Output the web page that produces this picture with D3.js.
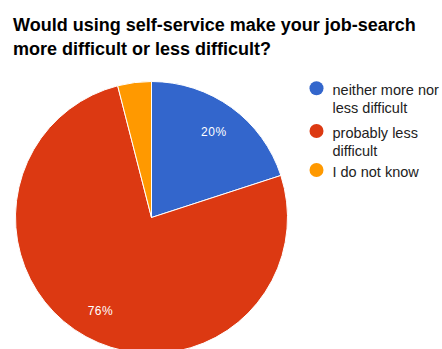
<!DOCTYPE html>
<html>
<head>
<meta charset="utf-8">
<script src="https://cdn.jsdelivr.net/npm/d3@7"></script>
<style>
  body { margin: 0; background: #fff; }
  svg { display: block; font-family: Arial, "Liberation Sans", sans-serif; }
</style>
</head>
<body>
<div id="chart"></div>
<script>
var categories = ["neither more nor less difficult", "probably less difficult", "I do not know"];
var legendLines = [["neither more nor", "less difficult"], ["probably less", "difficult"], ["I do not know"]];
var values = [20, 76, 4];
var colors = ["#3366cc", "#dc3912", "#ff9900"];
var titleLines = ["Would using self-service make your job-search", "more difficult or less difficult?"];

var width = 442, height = 349;
var cx = 151.5, cy = 217.5, radius = 136;

var svg = d3.select("#chart").append("svg")
    .attr("width", width)
    .attr("height", height);

// title
svg.append("text")
    .attr("x", 13)
    .attr("y", 31)
    .style("font-size", "18px")
    .style("font-weight", "bold")
    .style("fill", "#000")
    .selectAll("tspan")
    .data(titleLines)
    .enter().append("tspan")
    .attr("x", 13)
    .attr("dy", (d, i) => i ? 24 : 0)
    .text(d => d);

var data = categories.map((c, i) => ({ label: c, value: values[i] }));

var color = d3.scaleOrdinal().domain(categories).range(colors);

var pie = d3.pie().sort(null).value(d => d.value);
var arc = d3.arc().innerRadius(0).outerRadius(radius);
var labelArc = d3.arc().innerRadius(radius * 0.78).outerRadius(radius * 0.78);

var g = svg.append("g").attr("transform", "translate(" + cx + "," + cy + ")");

var arcs = pie(data);

g.selectAll("path.slice")
    .data(arcs)
    .enter().append("path")
    .attr("class", "slice")
    .attr("d", arc)
    .attr("fill", d => color(d.data.label))
    .attr("stroke", "#fff")
    .attr("stroke-width", 1);

g.selectAll("text.pct")
    .data(arcs.filter(d => d.data.value >= 10))
    .enter().append("text")
    .attr("class", "pct")
    .attr("transform", d => "translate(" + labelArc.centroid(d) + ")")
    .attr("text-anchor", "middle")
    .attr("dy", "0.35em")
    .style("font-size", "12px")
    .style("letter-spacing", "0.5px")
    .style("fill", "#fff")
    .text(d => d.data.value + "%");

// legend
var legendY = [88.3, 131, 170];
var legend = svg.append("g").attr("class", "legend");
var item = legend.selectAll("g")
    .data(data)
    .enter().append("g")
    .attr("transform", (d, i) => "translate(316.5," + legendY[i] + ")");

item.append("circle")
    .attr("r", 7)
    .attr("fill", d => color(d.label));

item.append("text")
    .attr("x", 16)
    .attr("y", 6.5)
    .style("font-size", "14.5px")
    .style("fill", "#222")
    .selectAll("tspan")
    .data((d, i) => legendLines[i])
    .enter().append("tspan")
    .attr("x", 16)
    .attr("dy", (d, i) => i ? 18.5 : 0)
    .text(d => d);
</script>
</body>
</html>
